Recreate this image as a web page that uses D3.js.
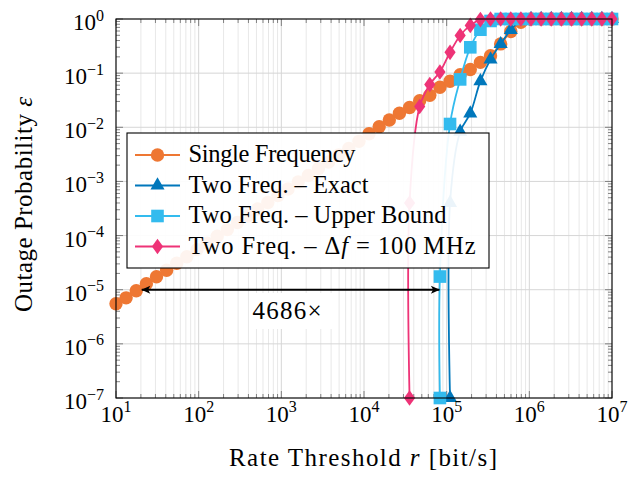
<!DOCTYPE html>
<html><head><meta charset="utf-8">
<script src="https://cdn.jsdelivr.net/npm/d3@7/dist/d3.min.js"></script>
<style>
body{margin:0;background:#fff}
svg{display:block}
text{font-family:"Liberation Serif","Times New Roman",serif;fill:#000}
</style>
</head><body>
<svg id="chart" width="630" height="477"></svg>
<script>
// ---------------- data ----------------
const rate = [10, 13.26, 17.58, 23.30, 30.89, 40.95, 54.29, 71.97, 95.41, 126.5,
  167.7, 222.3, 294.7, 390.7, 517.9, 686.6, 910.2, 1207, 1600, 2121,
  2812, 3728, 4942, 6551, 8685, 11514, 15264, 20236, 26827, 35565,
  47149, 62506, 82864, 109854, 145635, 193070, 255955, 339322, 449843, 596362,
  790604, 1048113, 1389495, 1842070, 2442053, 3237458, 4291934, 5689866, 7543120, 10000000];

const singleFreq = [5.50e-6, 7.08e-6, 9.55e-6, 1.29e-5, 1.74e-5, 2.29e-5, 3.09e-5, 4.07e-5, 5.50e-5, 7.24e-5,
  9.77e-5, 1.29e-4, 1.74e-4, 2.29e-4, 3.09e-4, 4.07e-4, 5.50e-4, 7.24e-4, 9.77e-4, 1.29e-3,
  1.74e-3, 2.29e-3, 3.09e-3, 4.07e-3, 5.50e-3, 7.59e-3, 1.02e-2, 1.36e-2, 1.82e-2, 2.32e-2,
  3.09e-2, 3.89e-2, 5.50e-2, 7.08e-2, 9.33e-2, 0.117, 0.158, 0.209, 0.347, 0.589,
  0.871, 1, 1, 1, 1, 1, 1, 1, 1, 1];

const exactRate = [109854, 109854, 145635, 193070, 255955, 339322, 449843, 596362, 790604, 1048113,
  1389495, 1842070, 2442053, 3237458, 4291934, 5689866, 7543120, 10000000];
const exactOutage = [1e-7, 4e-4, 0.0083, 0.018, 0.071, 0.18, 0.345, 0.63, 0.93, 1,
  1, 1, 1, 1, 1, 1, 1, 1];

const boundRate = [82864, 82864, 109854, 145635, 193070, 255955, 339322, 449843, 596362, 790604,
  1048113, 1389495, 1842070, 2442053, 3237458, 4291934, 5689866, 7543120, 10000000];
const boundOutage = [1e-7, 1.75e-5, 0.0115, 0.0766, 0.30, 0.634, 0.92, 1, 1, 1,
  1, 1, 1, 1, 1, 1, 1, 1, 1];

const dfRate = [35565, 35565, 47149, 62506, 82864, 109854, 145635, 193070, 255955, 339322,
  449843, 596362, 790604, 1048113, 1389495, 1842070, 2442053, 3237458, 4291934, 5689866,
  7543120, 10000000];
const dfOutage = [1e-7, 4e-4, 0.0242, 0.0617, 0.105, 0.242, 0.496, 0.762, 0.975, 1,
  1, 1, 1, 1, 1, 1, 1, 1, 1, 1, 1, 1];

const seriesNames = ["Single Frequency", "Two Freq. \u2013 Exact", "Two Freq. \u2013 Upper Bound", "Two Freq. \u2013 \u0394f = 100 MHz"];
const xTickValues = [1e1, 1e2, 1e3, 1e4, 1e5, 1e6, 1e7];
const xTickExps = ["1", "2", "3", "4", "5", "6", "7"];
const yTickValues = [1e-7, 1e-6, 1e-5, 1e-4, 1e-3, 1e-2, 1e-1, 1];
const yTickExps = ["\u22127", "\u22126", "\u22125", "\u22124", "\u22123", "\u22122", "\u22121", "0"];
const gainArrow = [20.5, 82864];   // rate range of the annotation arrow
const gainLevel = 1e-5;
const gainLabel = "4686\u00d7";

// ---------------- layout ----------------
const L = 116, R = 612, T = 19, B = 398;
const svg = d3.select("#chart");
const x = d3.scaleLog().domain([1e1, 1e7]).range([L, R]);
const y = d3.scaleLog().domain([1e-7, 1]).range([B, T]);

const colors = ["#EE7733", "#0077BB", "#33BBEE", "#EE3377"];

const defs = svg.append("defs");
defs.append("clipPath").attr("id", "plotclip")
  .append("rect").attr("x", L).attr("y", T).attr("width", R - L).attr("height", B - T);

// grid
const isMajor = v => Math.abs(Math.log10(v) - Math.round(Math.log10(v))) < 1e-9;
const xAll = x.ticks();
const yAll = y.ticks();
const grid = svg.append("g");
grid.selectAll(".xmin").data(xAll.filter(v => !isMajor(v))).join("line")
  .attr("x1", d => x(d)).attr("x2", d => x(d)).attr("y1", T).attr("y2", B)
  .attr("stroke", "#e8e8e8").attr("stroke-width", 1);
grid.selectAll(".xmaj").data(xAll.filter(v => isMajor(v))).join("line")
  .attr("x1", d => x(d)).attr("x2", d => x(d)).attr("y1", T).attr("y2", B)
  .attr("stroke", "#d6d6d6").attr("stroke-width", 1);
grid.selectAll(".ymaj").data(yAll.filter(v => isMajor(v))).join("line")
  .attr("x1", L).attr("x2", R).attr("y1", d => y(d)).attr("y2", d => y(d))
  .attr("stroke", "#d6d6d6").attr("stroke-width", 1);

// ticks (inward on all sides)
const tk = svg.append("g").attr("stroke", "#666").attr("stroke-width", 0.8);
xAll.forEach(v => {
  const len = isMajor(v) ? 7 : 4;
  tk.append("line").attr("x1", x(v)).attr("x2", x(v)).attr("y1", B).attr("y2", B - len);
  tk.append("line").attr("x1", x(v)).attr("x2", x(v)).attr("y1", T).attr("y2", T + len);
});
yAll.forEach(v => {
  const len = isMajor(v) ? 7 : 4;
  tk.append("line").attr("x1", L).attr("x2", L + len).attr("y1", y(v)).attr("y2", y(v));
  tk.append("line").attr("x1", R).attr("x2", R - len).attr("y1", y(v)).attr("y2", y(v));
});

// series
const symbols = {
  circle: g => g.append("circle").attr("r", 6.7),
  triangle: g => g.append("path").attr("d", d3.symbol(d3.symbolTriangle, 86)()),
  square: g => g.append("rect").attr("x", -6.3).attr("y", -6.3).attr("width", 12.6).attr("height", 12.6),
  diamond: g => g.append("path").attr("d", "M0,-7.8L5.6,0L0,7.8L-5.6,0Z")
};
const shapeNames = ["circle", "triangle", "square", "diamond"];
const seriesData = [
  rate.map((r, i) => [r, singleFreq[i]]),
  exactRate.map((r, i) => [r, exactOutage[i]]),
  boundRate.map((r, i) => [r, boundOutage[i]]),
  dfRate.map((r, i) => [r, dfOutage[i]])
];
const line = d3.line().x(d => x(d[0])).y(d => y(d[1])).curve(d3.curveCatmullRom.alpha(0.5));

seriesData.forEach((data, si) => {
  const g = svg.append("g");
  g.append("path").attr("d", line(data)).attr("fill", "none")
    .attr("stroke", colors[si]).attr("stroke-width", 1.8).attr("clip-path", "url(#plotclip)");
  data.forEach(d => {
    const m = g.append("g").attr("transform", `translate(${x(d[0])},${y(d[1])})`).attr("fill", colors[si]);
    symbols[shapeNames[si]](m);
  });
});

// frame
svg.append("rect").attr("x", L).attr("y", T).attr("width", R - L).attr("height", B - T)
  .attr("fill", "none").attr("stroke", "#000").attr("stroke-width", 1.1);

// tick labels
xTickValues.forEach((v, i) => {
  const t = svg.append("text").attr("x", x(v)).attr("y", 422).attr("text-anchor", "middle")
    .attr("font-size", 23).text("10");
  t.append("tspan").attr("dy", -10.5).attr("font-size", 16).text(xTickExps[i]);
});
yTickValues.forEach((v, i) => {
  const t = svg.append("text").attr("x", 104).attr("y", y(v) + 11).attr("text-anchor", "end")
    .attr("font-size", 23).text("10");
  t.append("tspan").attr("dy", -9.5).attr("font-size", 16).text(yTickExps[i]);
});

// axis titles
const xl = svg.append("text").attr("x", 363).attr("y", 466).attr("text-anchor", "middle")
  .attr("font-size", 25).attr("textLength", 268).attr("lengthAdjust", "spacing");
xl.append("tspan").text("Rate Threshold ");
xl.append("tspan").attr("font-style", "italic").text("r");
xl.append("tspan").text(" [bit/s]");

const yl = svg.append("text").attr("transform", "translate(32,204.5) rotate(-90)")
  .attr("text-anchor", "middle").attr("font-size", 25)
  .attr("textLength", 215).attr("lengthAdjust", "spacing");
yl.append("tspan").text("Outage Probability ");
yl.append("tspan").attr("font-style", "italic").text("\u03b5");

// annotation
const ay = y(gainLevel);
svg.append("rect").attr("x", 249).attr("y", 293).attr("width", 84).attr("height", 36).attr("fill", "#fff");
const mk = defs.append("marker").attr("id", "ah").attr("viewBox", "0 0 10 10").attr("refX", 9.5).attr("refY", 5)
  .attr("markerWidth", 10).attr("markerHeight", 9).attr("markerUnits", "userSpaceOnUse")
  .attr("orient", "auto-start-reverse");
mk.append("path").attr("d", "M0,0.5L10,5L0,9.5L2.5,5Z").attr("fill", "#000");
svg.append("line").attr("x1", x(gainArrow[0])).attr("x2", x(gainArrow[1]) - 0.5)
  .attr("y1", ay).attr("y2", ay).attr("stroke", "#000").attr("stroke-width", 2)
  .attr("marker-start", "url(#ah)").attr("marker-end", "url(#ah)");
svg.append("text").attr("x", 287).attr("y", 319).attr("text-anchor", "middle")
  .attr("font-size", 25).attr("textLength", 69).attr("lengthAdjust", "spacing").text(gainLabel);

// legend
const lg = svg.append("g");
lg.append("rect").attr("x", 127).attr("y", 133).attr("width", 362).attr("height", 135)
  .attr("fill", "#fff").attr("fill-opacity", 0.92).attr("stroke", "#000").attr("stroke-width", 1.1);
const rowY = [155, 185.5, 216, 246.5];
const textW = [167, 180, 258, 287];
seriesNames.forEach((name, i) => {
  const ry = rowY[i];
  lg.append("line").attr("x1", 135).attr("x2", 180).attr("y1", ry).attr("y2", ry)
    .attr("stroke", colors[i]).attr("stroke-width", 1.8);
  const m = lg.append("g").attr("transform", `translate(157.5,${ry})`).attr("fill", colors[i]);
  symbols[shapeNames[i]](m);
  const t = lg.append("text").attr("x", 188.5).attr("y", ry + 7).attr("font-size", 24.5)
    .attr("textLength", textW[i]).attr("lengthAdjust", "spacing");
  if (i === 3) {
    t.append("tspan").text("Two Freq. \u2013 \u0394");
    t.append("tspan").attr("font-style", "italic").text("f");
    t.append("tspan").text(" = 100\u2009MHz");
  } else {
    t.text(name);
  }
});
</script>
</body></html>
